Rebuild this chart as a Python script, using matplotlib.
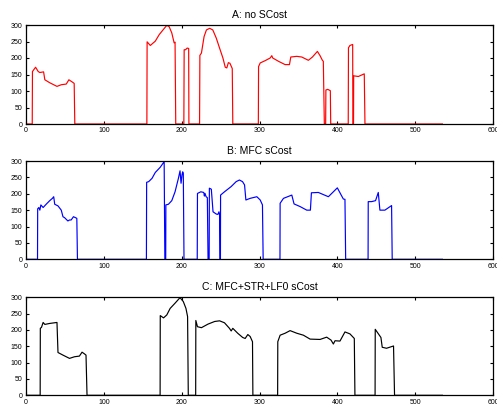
import matplotlib
matplotlib.use("Agg")
import matplotlib.pyplot as plt

# Panel A: no SCost (red)
a_x = [0, 8, 8.3, 12.3, 15.7, 17.8, 22.6, 24.2, 30.5, 39.8, 45.3, 51.7, 55.1, 60.2, 61.9, 62.7,
       155.3, 155.6, 159.7, 166.1, 171.2, 176.7, 180.9, 183.9, 187.3, 190.3, 191.5, 192.4,
       202.8, 203.2, 205, 207, 209, 209.3,
       223, 223.4, 225.4, 228.8, 231.8, 236, 240, 244.5, 248.7, 253, 256, 258, 260, 262, 265, 265.7,
       298.5, 298.8, 300.9, 307.3, 313.7, 315.8, 317, 324.4, 332.9, 338.5, 340.2, 347.9, 354.3,
       362.8, 368, 374.4, 377.8, 380.8, 382, 383.3,
       385, 385.3, 387.6, 391, 391.5,
       414, 414.3, 416.2, 419.7, 420, 420.8, 421, 427, 434.6, 435.5,
       535]
a_y = [0, 0, 159, 172, 159, 156, 158, 134, 125, 114, 119, 121, 134, 126, 123, 0,
       0, 249, 238, 251, 271, 287, 299, 295, 276, 246, 248, 0,
       0, 225, 225, 230, 229, 0,
       0, 208, 215, 265, 285, 290, 285, 260, 230, 200, 172, 170, 186, 184, 168, 0,
       0, 174, 185, 192, 200, 207, 200, 190, 180, 180, 203, 205, 203,
       193, 203, 220, 207, 193, 190, 0,
       0, 103, 105, 101, 0,
       0, 231, 238, 241, 0, 0, 146, 144, 152, 0,
       0]

# Panel B: MFC sCost (blue)
b_x = [0, 14.8, 15, 16.5, 17.8, 19.1, 22, 26.3, 30.5, 33.9, 35.6, 36.9, 41.1, 45.3, 47.5, 49.6,
       53.8, 55.9, 58, 61, 63.6, 65.3, 66.1,
       154.7, 155, 157.6, 161.9, 166.1, 172.5, 177.5, 178.4, 179.5, 179.7, 183, 187.3, 191.5,
       195.8, 197.9, 199.2, 200.4, 201.3, 202.1, 203,
       220, 220.3, 224.6, 228.4, 229.2, 230, 231.4, 233, 233.9,
       235.3, 235.6, 238.1, 240.3, 244.5, 246.6, 247.9, 248.7, 249.2,
       249.8, 250, 255, 263.6, 270, 274.2, 278.2, 280.8, 282.5, 288, 296.6, 300.9, 303.8, 304.7,
       326.3, 326.5, 330.8, 341.5, 344.4, 352.1, 360.7, 365.4, 366.7, 375.6, 388.5, 400, 407.7,
       409.8, 410.7,
       439.5, 439.7, 444, 449.1, 452.6, 454.7, 461.1, 469.7, 470.5,
       535]
b_y = [0, 0, 154, 158, 150, 166, 158, 169, 179, 186, 191, 168, 163, 150, 130, 127,
       117, 120, 120, 130, 127, 125, 0,
       0, 235, 237, 247, 265, 281, 298, 0, 0, 166, 168, 179, 206,
       247, 270, 232, 257, 267, 262, 0,
       0, 201, 206, 204, 193, 201, 191, 188, 0,
       0, 217, 214, 145, 138, 137, 145, 137, 0,
       0, 196, 206, 222, 237, 242, 237, 227, 181, 186, 191, 181, 166, 0,
       0, 171, 186, 196, 169, 161, 150, 150, 203, 204, 191, 218, 184,
       183, 0,
       0, 176, 176, 179, 204, 150, 150, 164, 0,
       0]

# Panel C: MFC+STR+LF0 sCost (black)
c_x = [0, 18.2, 18.4, 19.9, 22, 24.2, 30.5, 39.8, 41.1, 47.5, 55.9, 62.3, 68.6, 72, 75, 77.1, 78.4,
       172.3, 172.5, 176.7, 180.9, 185.2, 191.5, 197.9, 202.1, 205.5, 207.6, 208.5,
       218, 218.2, 220.3, 225.4, 233.9, 242.4, 248.7, 255, 261.4, 263.6, 265.7, 272, 278.4,
       281.6, 285, 288, 291, 291.5,
       323.3, 323.5, 326.5, 332.9, 339.3, 347.9, 356.4, 365, 377.8, 386.3, 391.9, 394.9, 397,
       403.4, 409.8, 416.2, 421.8, 422.6,
       448.5, 448.7, 456, 457.7, 463.2, 472.2, 473.5,
       535]
c_y = [0, 0, 205, 208, 223, 217, 220, 223, 131, 123, 113, 118, 120, 132, 127, 123, 0,
       0, 244, 237, 246, 266, 282, 299, 287, 266, 241, 0,
       0, 229, 210, 207, 218, 226, 228, 222, 205, 197, 205, 190, 177,
       174, 186, 180, 164, 0,
       0, 164, 184, 190, 198, 190, 184, 172, 171, 178, 169, 157, 167,
       166, 194, 188, 174, 0,
       0, 202, 177, 147, 144, 151, 0,
       0]

titles = ["A: no SCost", "B: MFC sCost", "C: MFC+STR+LF0 sCost"]
colors = ["#ff0000", "#0000ff", "#000000"]
xs = [a_x, b_x, c_x]
ys = [a_y, b_y, c_y]

plt.rcParams['font.family'] = ['Liberation Sans', 'DejaVu Sans']

fig = plt.figure(figsize=(4.97, 4.05), dpi=100)
left = 26 / 497
width = (493 - 26) / 497
rects = [(25, 124), (161, 259.3), (297.3, 395.3)]

for i in range(3):
    top, bot = rects[i]
    ax = fig.add_axes([left, 1 - bot / 405, width, (bot - top) / 405])
    ax.plot(xs[i], ys[i], color=colors[i], lw=0.85)
    ax.set_xlim(0, 600)
    ax.set_ylim(0, 300)
    ax.set_xticks(range(0, 601, 100))
    ax.set_yticks(range(0, 301, 50))
    ax.tick_params(direction='in', length=2.5, width=0.8, labelsize=5, pad=2.5,
                   top=True, right=True)
    for s in ax.spines.values():
        s.set_linewidth(0.9)
    ax.set_title(titles[i], fontsize=7.5, pad=5)

fig.savefig("out.png", dpi=100)
